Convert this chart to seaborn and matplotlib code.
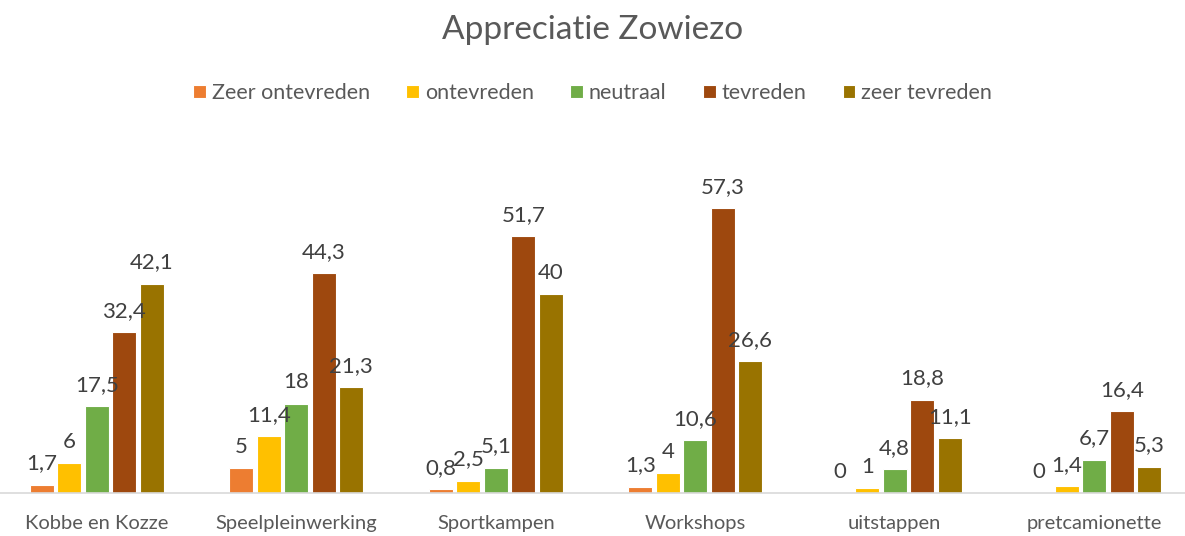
import pandas as pd
import matplotlib.pyplot as plt
import seaborn as sns

# ------------------- Data -------------------
categories = ['Kobbe en Kozze', 'Speelpleinwerking', 'Sportkampen',
              'Workshops', 'uitstappen', 'pretcamionette']
series = ['Zeer ontevreden', 'ontevreden', 'neutraal', 'tevreden', 'zeer tevreden']
zeer_ontevreden = [1.7, 5, 0.8, 1.3, 0, 0]
ontevreden = [6, 11.4, 2.5, 4, 1, 1.4]
neutraal = [17.5, 18, 5.1, 10.6, 4.8, 6.7]
tevreden = [32.4, 44.3, 51.7, 57.3, 18.8, 16.4]
zeer_tevreden = [42.1, 21.3, 40, 26.6, 11.1, 5.3]
colors = ['#ED7D31', '#FFC000', '#70AD47', '#9E480E', '#997300']

values = [zeer_ontevreden, ontevreden, neutraal, tevreden, zeer_tevreden]
rows = []
for s, vals in zip(series, values):
    for c, v in zip(categories, vals):
        rows.append({'categorie': c, 'reeks': s, 'waarde': v})
df = pd.DataFrame(rows)

# ------------------- Plot -------------------
sns.set_style('white')
plt.rcParams['font.family'] = ['Lato', 'DejaVu Sans']

fig = plt.figure(figsize=(11.85, 5.36), dpi=100)
ax = fig.add_axes([-3 / 1185, 43 / 536, 1197 / 1185, 348 / 536])

sns.barplot(data=df, x='categorie', y='waarde', hue='reeks', order=categories,
            hue_order=series, palette=colors, saturation=1, width=0.69, gap=0.12,
            edgecolor='white', linewidth=0.8, ax=ax)

for cont in ax.containers:
    ax.bar_label(cont, labels=[f'{v:g}'.replace('.', ',') for v in cont.datavalues],
                 padding=8, fontsize=16, color='#404040')

ax.set_ylim(0, 70)
ax.set_yticks([])
ax.set_xlabel('')
ax.set_ylabel('')
for side in ['left', 'right', 'top']:
    ax.spines[side].set_visible(False)
ax.spines['bottom'].set_color('#D9D9D9')
ax.spines['bottom'].set_linewidth(1.2)
ax.tick_params(axis='x', length=0, pad=16, labelsize=14.5, labelcolor='#595959')

ax.legend(loc='center', bbox_to_anchor=(0.5 * 1185 / 1197 + 3 / 1197, 400 / 348), ncol=5,
          frameon=False, fontsize=15.5, handlelength=0.6, handleheight=0.6,
          handletextpad=0.25, columnspacing=1.7, labelcolor='#595959')

fig.text(0.5, 1 - 30 / 536, 'Appreciatie Zowiezo', ha='center', va='center',
         fontsize=24, color='#595959')

fig.savefig('out.png', dpi=100)
